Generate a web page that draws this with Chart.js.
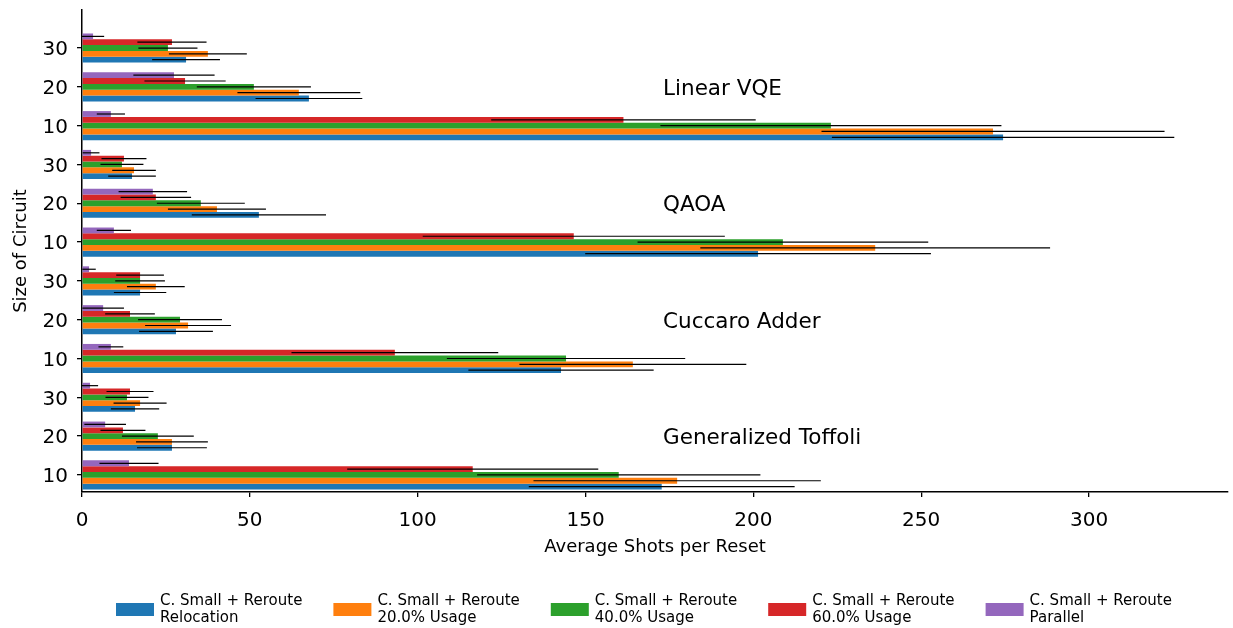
<!DOCTYPE html>
<html><head><meta charset="utf-8">
<script src="https://cdn.jsdelivr.net/npm/chart.js@4/dist/chart.umd.min.js"></script>
<style>html,body{margin:0;padding:0;background:#fff;}#wrap{width:1233px;height:628px;position:relative;}</style>
</head><body><div id="wrap"><canvas id="c" width="1233" height="628"></canvas></div>
<script>
// Categories, top to bottom
const groupNames = ["Linear VQE", "QAOA", "Cuccaro Adder", "Generalized Toffoli"];
const sizeLabels = ["30", "20", "10", "30", "20", "10", "30", "20", "10", "30", "20", "10"];
const groupLabelRows = [1, 4, 7, 10];
const xTicks = [0, 50, 100, 150, 200, 250, 300];

const seriesNames = [
  "C. Small + Reroute\nRelocation",
  "C. Small + Reroute\n20.0% Usage",
  "C. Small + Reroute\n40.0% Usage",
  "C. Small + Reroute\n60.0% Usage",
  "C. Small + Reroute\nParallel"
];
const seriesColors = ["#1f77b4", "#ff7f0e", "#2ca02c", "#d62728", "#9467bd"];

const relocation    = [31.0, 67.6, 274.4, 14.9, 52.7, 201.4, 17.3, 28.0, 142.7, 15.8, 26.8, 172.7];
const relocationErr = [10.1, 15.9, 51.0, 7.1, 20.0, 51.5, 7.8, 11.0, 27.6, 7.2, 10.4, 39.6];
const usage20       = [37.5, 64.6, 271.4, 15.5, 40.2, 236.3, 22.0, 31.6, 164.1, 17.3, 26.8, 177.3];
const usage20Err    = [11.6, 18.3, 51.1, 6.5, 14.6, 52.1, 8.6, 12.8, 33.8, 7.9, 10.7, 42.8];
const usage40       = [25.6, 51.2, 223.1, 11.9, 35.4, 208.8, 17.3, 29.2, 144.2, 13.4, 22.6, 159.9];
const usage40Err    = [8.8, 17.0, 50.8, 6.4, 13.1, 43.3, 7.4, 12.5, 35.5, 6.4, 10.7, 42.2];
const usage60       = [26.8, 30.7, 161.3, 12.5, 22.0, 146.5, 17.3, 14.3, 93.2, 14.3, 12.2, 116.4];
const usage60Err    = [10.3, 12.1, 39.4, 6.7, 10.5, 45.0, 7.1, 7.4, 30.8, 7.0, 6.7, 37.4];
const parallel      = [3.3, 27.4, 8.6, 2.7, 21.1, 9.5, 2.1, 6.3, 8.6, 2.4, 6.9, 14.0];
const parallelErr   = [3.3, 12.1, 4.2, 2.5, 10.2, 5.1, 2.0, 6.2, 3.7, 2.4, 6.2, 8.8];

const seriesValues = [relocation, usage20, usage40, usage60, parallel];
const seriesErrors = [relocationErr, usage20Err, usage40Err, usage60Err, parallelErr];

const FONT = "DejaVu Sans";

// datasets: reversed so that Relocation sits at the bottom of each group
const datasets = [];
for (let s = seriesValues.length - 1; s >= 0; s--) {
  datasets.push({
    label: seriesNames[s],
    data: seriesValues[s].map((v, i) => ({ x: v, y: i })),
    errors: seriesErrors[s],
    backgroundColor: seriesColors[s],
    borderWidth: 0
  });
}

const errorBars = {
  id: "errorBars",
  afterDatasetsDraw(chart) {
    const ctx = chart.ctx, xs = chart.scales.x, a = chart.chartArea;
    ctx.save();
    ctx.beginPath();
    ctx.rect(a.left, a.top, a.right - a.left, a.bottom - a.top);
    ctx.clip();
    ctx.strokeStyle = "#000";
    ctx.lineWidth = 1.2;
    chart.data.datasets.forEach((ds, di) => {
      const meta = chart.getDatasetMeta(di);
      meta.data.forEach((el, i) => {
        const v = ds.data[i].x, e = ds.errors[i];
        const x1 = xs.getPixelForValue(v - e), x2 = xs.getPixelForValue(v + e);
        ctx.beginPath();
        ctx.moveTo(x1, el.y);
        ctx.lineTo(x2, el.y);
        ctx.stroke();
      });
    });
    ctx.restore();
  }
};

const annotations = {
  id: "annotations",
  afterDraw(chart) {
    const ctx = chart.ctx, xs = chart.scales.x, ys = chart.scales.y;
    ctx.save();
    ctx.fillStyle = "#000";
    ctx.font = "21.5px '" + FONT + "'";
    ctx.textAlign = "left";
    ctx.textBaseline = "middle";
    groupNames.forEach((g, k) => {
      ctx.fillText(g, xs.getPixelForValue(173.1), ys.getPixelForValue(groupLabelRows[k]) + 2.5);
    });
    // legend
    const startX = 116, step = 217.4, boxW = 38, boxH = 13, boxTop = 603;
    ctx.font = "15px '" + FONT + "'";
    seriesNames.forEach((n, s) => {
      const x = startX + step * s;
      ctx.fillStyle = seriesColors[s];
      ctx.fillRect(x, boxTop, boxW, boxH);
      ctx.fillStyle = "#000";
      const lines = n.split("\n");
      lines.forEach((ln, j) => ctx.fillText(ln, x + 44, 601 + j * 17));
    });
    ctx.restore();
  }
};

new Chart(document.getElementById("c"), {
  type: "bar",
  data: { datasets },
  plugins: [errorBars, annotations],
  options: {
    indexAxis: "y",
    responsive: false,
    animation: false,
    devicePixelRatio: 1,
    categoryPercentage: 0.75,
    barPercentage: 1.0,
    layout: { padding: { top: 10, right: 5, bottom: 70, left: 0 } },
    plugins: { legend: { display: false }, tooltip: { enabled: false } },
    scales: {
      x: {
        type: "linear",
        min: 0,
        max: 341.4,
        offset: false,
        afterBuildTicks: (s) => { s.ticks = xTicks.map(v => ({ value: v })); },
        afterFit: (s) => { s.height = 66; s.paddingLeft = 0; s.paddingRight = 0; },
        grid: { offset: false, drawOnChartArea: false, drawTicks: true, tickLength: 5, color: "#000", lineWidth: 1.3 },
        border: { display: true, color: "#000", width: 1.5 },
        ticks: { color: "#000", font: { family: FONT, size: 20 }, padding: 12 },
        title: { display: true, text: "Average Shots per Reset", color: "#000", font: { family: FONT, size: 18 }, padding: { top: 0, bottom: 0 } }
      },
      y: {
        type: "linear",
        reverse: true,
        offset: false,
        min: -0.98,
        max: 11.44,
        afterBuildTicks: (s) => { s.ticks = sizeLabels.map((_, i) => ({ value: i })); },
        afterFit: (s) => { s.width = 82; s.paddingTop = 0; s.paddingBottom = 0; },
        grid: { offset: false, drawOnChartArea: false, drawTicks: true, tickLength: 5, color: "#000", lineWidth: 1.3 },
        border: { display: true, color: "#000", width: 1.5 },
        ticks: { color: "#000", font: { family: FONT, size: 20 }, padding: 9, labelOffset: 2, callback: (v) => sizeLabels[v] },
        title: { display: true, text: "Size of Circuit", color: "#000", font: { family: FONT, size: 18 }, padding: { top: 11, bottom: 0 } }
      }
    }
  }
});
</script></body></html>
